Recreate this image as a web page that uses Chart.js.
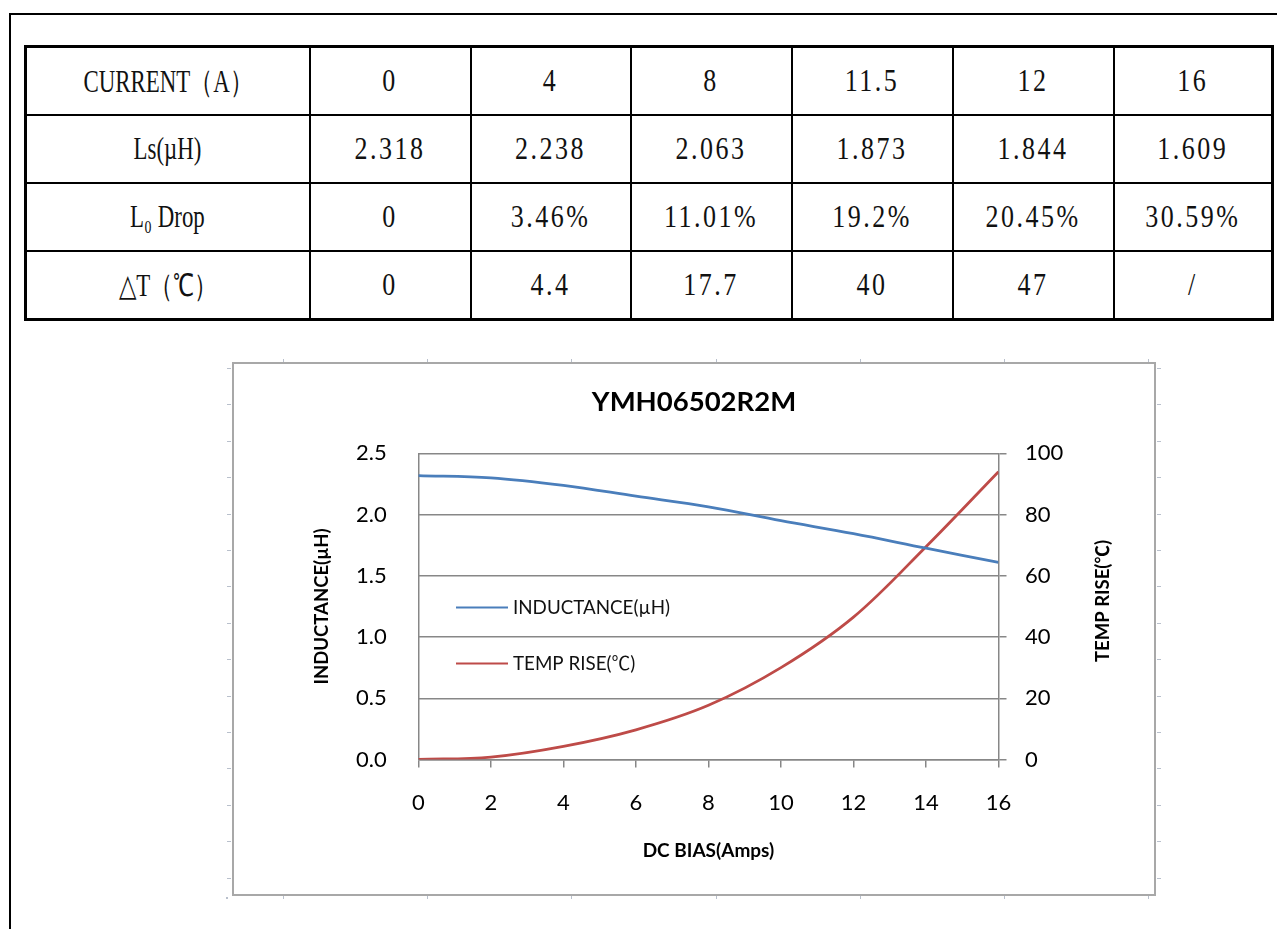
<!DOCTYPE html>
<html>
<head>
<meta charset="utf-8">
<script src="https://cdn.jsdelivr.net/npm/chart.js@4.4.0/dist/chart.umd.min.js"></script>
<style>
body{margin:0;background:#fff;width:1277px;height:929px;overflow:hidden;position:relative}
.rule{position:absolute;background:#000}
#specs{position:absolute;left:24px;top:45px;width:1247px;border-collapse:collapse;border:3px solid #000;table-layout:fixed;font-family:"Liberation Serif",serif;color:#111}
#specs td{border:2px solid #000;height:66px;padding:0;text-align:center;font-size:26px;letter-spacing:2.5px}
#specs td span{display:inline-block;transform:scaleY(1.2)}
#specs td.head span{transform:scale(0.88,1.2);letter-spacing:0}
#frame{position:absolute;left:232px;top:362px;width:924px;height:534px;border:2px solid #a8a8a8;box-sizing:border-box}
#c{position:absolute;left:0;top:0}
.mark{position:absolute;background:#b9c0cc}
</style>
</head>
<body>
<div class="rule" style="left:9px;top:13px;width:1268px;height:2px"></div>
<div class="rule" style="left:9px;top:13px;width:2px;height:916px"></div>

<table id="specs">
<colgroup><col style="width:284px"><col style="width:161px"><col style="width:160px"><col style="width:161px"><col style="width:161px"><col style="width:161px"><col style="width:159px"></colgroup>
<tbody id="rows"></tbody>
</table>

<div id="frame"><canvas id="c" width="920" height="530"></canvas></div>
<div id="marks"></div>

<script>
// table values
const rowHeads = ["CURRENT（A）", "Ls(µH)", "L₀ Drop", "△T（℃）"]
const currentA = ["0", "4", "8", "11.5", "12", "16"]
const lsValues = ["2.318", "2.238", "2.063", "1.873", "1.844", "1.609"]
const dropValues = ["0", "3.46%", "11.01%", "19.2%", "20.45%", "30.59%"]
const deltaT = ["0", "4.4", "17.7", "40", "47", "/"]

// chart values
const biasAmps = [0, 2, 4, 6, 8, 10, 12, 14, 16]
const inductance = [2.318, 2.30, 2.238, 2.15, 2.063, 1.95, 1.844, 1.725, 1.609]
const tempRise = [0, 0.8, 4.3, 9.7, 17.7, 30, 46.5, 69.5, 94]

const xTicks = [0, 2, 4, 6, 8, 10, 12, 14, 16]
const inductTicks = [0, 0.5, 1.0, 1.5, 2.0, 2.5]
const tempTicks = [0, 20, 40, 60, 80, 100]

const BLUE = "#4a7ebb"
const RED = "#be4b48"
const GRID = "#878787"

// build table
const tbody = document.getElementById("rows")
;[currentA, lsValues, dropValues, deltaT].forEach((vals, i) => {
  const tr = document.createElement("tr")
  const th = document.createElement("td")
  th.className = "head"
  th.innerHTML = "<span>" + rowHeads[i] + "</span>"
  tr.appendChild(th)
  vals.forEach(v => {
    const td = document.createElement("td")
    const sp = document.createElement("span")
    sp.textContent = v
    td.appendChild(sp)
    tr.appendChild(td)
  })
  tbody.appendChild(tr)
})

// little marks round the drawing frame
const marks = document.getElementById("marks")
function mark(x, y, w, h) {
  const d = document.createElement("div")
  d.className = "mark"
  d.style.cssText = "left:" + x + "px;top:" + y + "px;width:" + w + "px;height:" + h + "px"
  marks.appendChild(d)
}
for (let y = 368; y < 890; y += 36.4) { mark(227, Math.round(y), 4, 1); mark(1157, Math.round(y), 4, 1) }
for (let x = 283; x < 1150; x += 144.2) { mark(Math.round(x), 359, 1, 3); mark(Math.round(x), 896, 1, 3) }
mark(226, 897, 2, 2)

const font = "Lato, 'Noto Sans CJK SC'"

// legend drawn inside the plot area
const insideLegend = {
  id: "insideLegend",
  afterDatasetsDraw(chart) {
    const c = chart.ctx
    const rows = [243.5, 299.5]
    c.save()
    chart.data.datasets.forEach((ds, i) => {
      c.strokeStyle = ds.borderColor
      c.lineWidth = 2.2
      c.beginPath()
      c.moveTo(222, rows[i])
      c.lineTo(274, rows[i])
      c.stroke()
      c.fillStyle = "#111"
      c.font = "18.8px " + font
      c.textBaseline = "middle"
      c.fillText(ds.label, 279, rows[i])
    })
    c.restore()
  }
}

// right axis title reads bottom to top like the left one
const rightTitle = {
  id: "rightTitle",
  afterDraw(chart) {
    const c = chart.ctx
    c.save()
    c.translate(869, 237)
    c.rotate(-Math.PI / 2)
    c.font = "bold 18.5px " + font
    c.fillStyle = "#000"
    c.textAlign = "center"
    c.textBaseline = "middle"
    c.fillText("TEMP RISE(℃)", 0, 0)
    c.restore()
  }
}

new Chart(document.getElementById("c"), {
  type: "line",
  data: {
    datasets: [{
      label: "INDUCTANCE(µH)",
      data: biasAmps.map((x, i) => ({x: x, y: inductance[i]})),
      borderColor: BLUE,
      borderWidth: 2.8,
      pointRadius: 0,
      tension: 0.35,
      yAxisID: "y"
    }, {
      label: "TEMP RISE(℃)",
      data: biasAmps.map((x, i) => ({x: x, y: tempRise[i]})),
      borderColor: RED,
      borderWidth: 2.8,
      pointRadius: 0,
      tension: 0.35,
      yAxisID: "y1"
    }]
  },
  options: {
    responsive: false,
    animation: false,
    layout: {padding: 0},
    plugins: {
      legend: {display: false},
      tooltip: {enabled: false},
      title: {
        display: true,
        text: "YMH06502R2M",
        color: "#000",
        font: {family: font, size: 27.5, weight: "bold", lineHeight: 1.2},
        padding: {top: 21.5, bottom: 34.8}
      }
    },
    scales: {
      x: {
        type: "linear",
        min: 0, max: 16,
        afterBuildTicks: s => { s.ticks = xTicks.map(v => ({value: v})) },
        afterFit: s => { s.height = 134.5 },
        grid: {drawOnChartArea: false, drawTicks: true, tickLength: 8, color: GRID, lineWidth: 1.5},
        border: {display: true, color: GRID, width: 1.5},
        ticks: {color: "#000", font: {family: font, size: 22}, padding: 22.5, maxRotation: 0},
        title: {display: true, text: "DC BIAS(Amps)", color: "#000", font: {family: font, size: 19, weight: "bold", lineHeight: 1.2}, padding: {top: 0, bottom: 31.6}}
      },
      y: {
        position: "left",
        min: 0, max: 2.5,
        afterBuildTicks: s => { s.ticks = inductTicks.map(v => ({value: v})) },
        afterFit: s => { s.width = 184.4 },
        grid: {display: false, drawTicks: false},
        border: {display: true, color: GRID, width: 1.5},
        ticks: {color: "#000", font: {family: font, size: 22}, padding: 31.7, callback: v => v.toFixed(1)},
        title: {display: true, text: "INDUCTANCE(µH)", color: "#000", font: {family: font, size: 18.5, weight: "bold", lineHeight: 1.2}, padding: {top: 76.9, bottom: 0}}
      },
      y1: {
        position: "right",
        min: 0, max: 100,
        afterBuildTicks: s => { s.ticks = tempTicks.map(v => ({value: v})) },
        afterFit: s => { s.width = 155.5 },
        grid: {drawOnChartArea: true, drawTicks: true, tickLength: 8, color: GRID, lineWidth: 1.5},
        border: {display: true, color: GRID, width: 1.5},
        ticks: {color: "#000", font: {family: font, size: 22}, padding: 18.5}
      }
    }
  },
  plugins: [insideLegend, rightTitle]
})
</script>
</body>
</html>
